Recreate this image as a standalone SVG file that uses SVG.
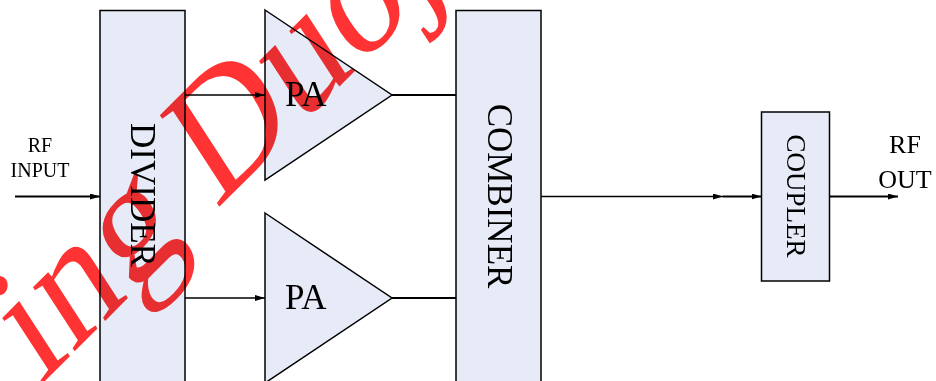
<svg xmlns="http://www.w3.org/2000/svg" width="936" height="381" viewBox="0 0 936 381">
  <style>
    .blk { fill: #e7ebf7; stroke: #000; stroke-width: 1.5; }
    .lbl { font-family: "Liberation Serif", "Times New Roman", serif; fill: #000; }
    .wire { stroke: #000; stroke-width: 1.4; fill: none; }
    .bold { stroke: #000; stroke-width: 2; fill: none; }
    .mark { font-family: "Liberation Serif", "Times New Roman", serif; font-size: 163px; fill: #ff3333; mix-blend-mode: multiply; }
  </style>
  <defs>
    <marker id="arr" viewBox="0 0 10 6" refX="10" refY="3" markerWidth="10" markerHeight="6" markerUnits="userSpaceOnUse" orient="auto">
      <path d="M0,0 L10,3 L0,6 z" fill="#000"/>
    </marker>
  </defs>

  <rect width="936" height="381" fill="#fff"/>

  <!-- input label -->
  <g id="rf-input">
    <text class="lbl" font-size="20" text-anchor="middle" x="40" y="152">RF</text>
    <text class="lbl" font-size="20" text-anchor="middle" x="40" y="177">INPUT</text>
  </g>

  <g id="divider">
    <rect class="blk" x="100" y="10.5" width="85" height="380"/>
    <text class="lbl" font-size="35" text-anchor="middle" transform="translate(131,195) rotate(90)">DIVIDER</text>
  </g>

  <g id="pa-top">
    <path class="blk" d="M265,10 L392,95 L265,180 z"/>
    <text class="lbl" font-size="35" x="285" y="106">PA</text>
  </g>

  <g id="pa-bottom">
    <path class="blk" d="M265,213 L392,298 L265,383 z"/>
    <text class="lbl" font-size="35" x="285" y="309">PA</text>
  </g>

  <g id="combiner">
    <rect class="blk" x="456" y="10.5" width="85" height="380"/>
    <text class="lbl" font-size="35" text-anchor="middle" transform="translate(488,196) rotate(90)">COMBINER</text>
  </g>

  <g id="coupler">
    <rect class="blk" x="761.5" y="112" width="68" height="169"/>
    <text class="lbl" font-size="27" text-anchor="middle" transform="translate(787,196) rotate(90)">COUPLER</text>
  </g>

  <g id="rf-out">
    <text class="lbl" font-size="26" text-anchor="middle" x="905" y="153">RF</text>
    <text class="lbl" font-size="26" text-anchor="middle" x="905" y="188">OUT</text>
  </g>

  <g id="connectors">
    <line class="bold" x1="15" y1="196.5" x2="100" y2="196.5" marker-end="url(#arr)"/>
    <line class="wire" x1="185" y1="95" x2="265" y2="95" marker-end="url(#arr)"/>
    <line class="wire" x1="185" y1="298" x2="265" y2="298" marker-end="url(#arr)"/>
    <line class="bold" x1="392" y1="95" x2="456" y2="95"/>
    <line class="bold" x1="392" y1="298" x2="456" y2="298"/>
    <line class="wire" x1="541" y1="196.5" x2="723" y2="196.5" marker-end="url(#arr)"/>
    <line class="bold" x1="723" y1="196.5" x2="761.5" y2="196.5" marker-end="url(#arr)"/>
    <line class="bold" x1="829.5" y1="196.5" x2="898" y2="196.5" marker-end="url(#arr)"/>
  </g>

  <!-- overprinted mark, multiplied so the line work stays dark -->
  <text class="mark" transform="translate(40,386) rotate(-45) skewX(-12)">ing Duoj</text>
</svg>
